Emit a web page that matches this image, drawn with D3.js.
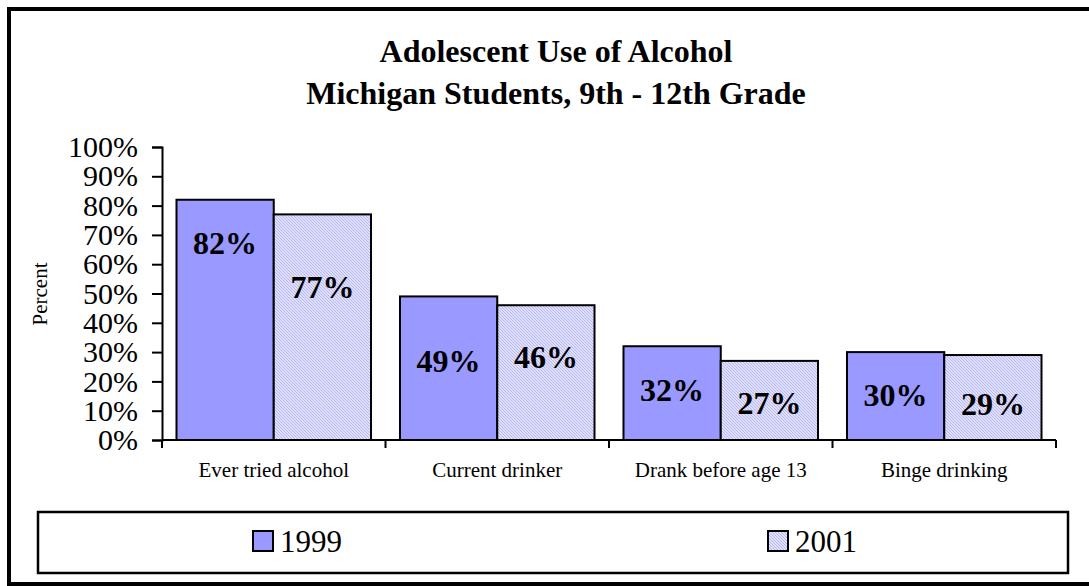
<!DOCTYPE html>
<html>
<head>
<meta charset="utf-8">
<script src="https://cdn.jsdelivr.net/npm/d3@7"></script>
<style>
  html, body { margin: 0; padding: 0; background: #fff; }
  svg { display: block; }
  text { font-family: "Liberation Serif", "Times New Roman", serif; fill: #000; }
</style>
</head>
<body>
<svg id="chart" width="1089" height="586"></svg>
<script>
const titleLines = ["Adolescent Use of Alcohol", "Michigan Students, 9th - 12th Grade"];
const categories = ["Ever tried alcohol", "Current drinker", "Drank before age 13", "Binge drinking"];
const seriesNames = ["1999", "2001"];
const values1999 = [82, 49, 32, 30];
const values2001 = [77, 46, 27, 29];
const yTicks = [0, 10, 20, 30, 40, 50, 60, 70, 80, 90, 100];
const yAxisTitle = "Percent";

const seriesValues = [values1999, values2001];

const svg = d3.select("#chart");

// pattern for 2001
const defs = svg.append("defs");
const pat = defs.append("pattern")
  .attr("id", "hatch")
  .attr("patternUnits", "userSpaceOnUse")
  .attr("width", 3).attr("height", 3);
pat.append("rect").attr("width", 3).attr("height", 3).attr("fill", "#f2f2fe");
pat.append("path").attr("d", "M-1,-1 L4,4 M-1,2 L1,4 M2,-1 L4,1")
  .attr("stroke", "#b4b4f6").attr("stroke-width", 1.1);

const fills = ["#9999ff", "url(#hatch)"];

// outer frame
svg.append("rect")
  .attr("x", 9).attr("y", 9).attr("width", 1090).attr("height", 575)
  .attr("fill", "#fff").attr("stroke", "#000").attr("stroke-width", 4);

// title
svg.selectAll("text.title").data(titleLines).enter().append("text")
  .attr("class", "title")
  .attr("x", 556).attr("y", (d, i) => 62 + i * 42)
  .attr("text-anchor", "middle")
  .attr("font-size", 32).attr("font-weight", "bold")
  .text(d => d);

// scales
const x = d3.scaleBand().domain(categories).range([162, 1056]).paddingInner(0).paddingOuter(0);
const xs = d3.scaleBand().domain(seriesNames).range([0, x.bandwidth()]).paddingInner(0).paddingOuter(0.149);
const y = d3.scaleLinear().domain([0, 100]).range([440, 147]);

// bars
const data = [];
categories.forEach((c, ci) => {
  seriesNames.forEach((s, si) => {
    data.push({ c, ci, s, si, v: seriesValues[si][ci] });
  });
});

svg.append("g").selectAll("rect").data(data).enter().append("rect")
  .attr("x", d => x(d.c) + xs(d.s))
  .attr("y", d => y(d.v))
  .attr("width", xs.bandwidth())
  .attr("height", d => y(0) - y(d.v))
  .attr("fill", d => fills[d.si])
  .attr("stroke", "#000").attr("stroke-width", 2);

// data labels (vertical offsets below bar top, px)
const labelDy = [[43, 72], [64, 52], [44, 42], [43, 49]];
svg.append("g").selectAll("text").data(data).enter().append("text")
  .attr("x", d => x(d.c) + xs(d.s) + xs.bandwidth() / 2)
  .attr("y", d => y(d.v) + labelDy[d.ci][d.si])
  .attr("dy", "0.35em")
  .attr("text-anchor", "middle")
  .attr("font-size", 32).attr("font-weight", "bold")
  .text(d => d.v + "%");

// y axis
const yAxis = d3.axisLeft(y).tickValues(yTicks).tickFormat(d => d + "%")
  .tickSize(10).tickSizeOuter(10).tickPadding(14);
const yg = svg.append("g").attr("transform", "translate(162,0)").call(yAxis);
yg.select(".domain").attr("stroke", "#000").attr("stroke-width", 2);
yg.selectAll(".tick line").attr("stroke", "#000").attr("stroke-width", 2);
yg.selectAll(".tick text").attr("font-family", "Liberation Serif, serif").attr("font-size", 30).attr("fill", "#000");

// x axis line + boundary ticks
const bounds = categories.map(c => x(c)).concat([x.range()[1]]);
svg.append("line").attr("x1", 162).attr("x2", x.range()[1]).attr("y1", y(0)).attr("y2", y(0))
  .attr("stroke", "#000").attr("stroke-width", 2);
svg.append("g").selectAll("line").data(bounds).enter().append("line")
  .attr("x1", d => d).attr("x2", d => d).attr("y1", y(0)).attr("y2", y(0) + 8)
  .attr("stroke", "#000").attr("stroke-width", 2);
svg.append("g").selectAll("text").data(categories).enter().append("text")
  .attr("x", d => x(d) + x.bandwidth() / 2)
  .attr("y", 477)
  .attr("text-anchor", "middle")
  .attr("font-size", 21)
  .text(d => d);

// y axis title
svg.append("text")
  .attr("transform", "translate(47,294) rotate(-90)")
  .attr("text-anchor", "middle")
  .attr("font-size", 21)
  .text(yAxisTitle);

// legend
svg.append("rect").attr("x", 38).attr("y", 512).attr("width", 1030).attr("height", 61)
  .attr("fill", "#fff").attr("stroke", "#000").attr("stroke-width", 2.5);
const legendX = [253, 768];
const lg = svg.append("g").selectAll("g").data(seriesNames).enter().append("g")
  .attr("transform", (d, i) => `translate(${legendX[i]},531)`);
lg.append("rect").attr("width", 20).attr("height", 20)
  .attr("fill", (d, i) => fills[i]).attr("stroke", "#000").attr("stroke-width", 2);
lg.append("text").attr("x", 27).attr("y", 10).attr("dy", "0.35em")
  .attr("font-size", 31).text(d => d);
</script>
</body>
</html>
